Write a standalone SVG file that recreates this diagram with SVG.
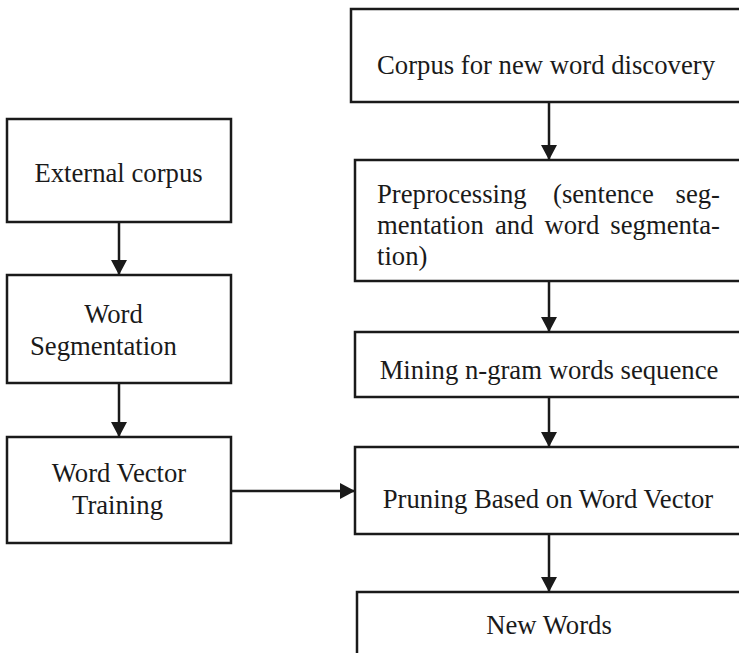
<svg xmlns="http://www.w3.org/2000/svg" width="739" height="653" viewBox="0 0 739 653">
  <style>
    .box { fill: #ffffff; stroke: #1a1a1a; stroke-width: 2.5; }
    .lbl { font-family: "Liberation Serif", "Times New Roman", serif; font-size: 26.7px; fill: #1a1a1a; }
    .mid { text-anchor: middle; }
    .end { text-anchor: end; }
    .conn { stroke: #1a1a1a; stroke-width: 2.5; fill: none; marker-end: url(#ah); }
  </style>
  <defs>
    <marker id="ah" viewBox="0 0 15 16" refX="15" refY="8" markerWidth="15" markerHeight="16" markerUnits="userSpaceOnUse" orient="auto">
      <path d="M0,0 L15,8 L0,16 z" fill="#1a1a1a"/>
    </marker>
  </defs>
  <rect width="739" height="653" fill="#ffffff"/>

  <g id="external-corpus">
    <rect class="box" x="7" y="119" width="224" height="103"/>
    <text class="lbl mid" x="118.5" y="182">External corpus</text>
  </g>
  <g id="word-segmentation">
    <rect class="box" x="7" y="275" width="224" height="108"/>
    <text class="lbl mid" x="113.5" y="323">Word</text>
    <text class="lbl" x="30" y="355">Segmentation</text>
  </g>
  <g id="word-vector-training">
    <rect class="box" x="7" y="437" width="224" height="106"/>
    <text class="lbl mid" x="119" y="482">Word Vector</text>
    <text class="lbl mid" x="117.5" y="514">Training</text>
  </g>

  <g id="corpus-new-word">
    <rect class="box" x="351" y="9" width="400" height="93"/>
    <text class="lbl mid" x="546" y="74">Corpus for new word discovery</text>
  </g>
  <g id="preprocessing">
    <rect class="box" x="355" y="160" width="396" height="121"/>
    <text class="lbl" x="377" y="203">Preprocessing</text>
    <text class="lbl" x="553" y="203">(sentence</text>
    <text class="lbl end" x="720" y="203">seg-</text>
    <text class="lbl" x="377" y="234">mentation</text>
    <text class="lbl" x="495" y="234">and</text>
    <text class="lbl" x="544.5" y="234">word</text>
    <text class="lbl end" x="720" y="234">segmenta-</text>
    <text class="lbl" x="377" y="265">tion)</text>
  </g>
  <g id="mining">
    <rect class="box" x="355" y="332" width="396" height="65"/>
    <text class="lbl mid" x="549" y="379">Mining n-gram words sequence</text>
  </g>
  <g id="pruning">
    <rect class="box" x="355" y="447" width="396" height="87"/>
    <text class="lbl mid" x="548" y="508">Pruning Based on Word Vector</text>
  </g>
  <g id="new-words">
    <rect class="box" x="357" y="592" width="396" height="80"/>
    <text class="lbl mid" x="549" y="634">New Words</text>
  </g>

  <g id="connectors">
    <line class="conn" x1="119" y1="222" x2="119" y2="275"/>
    <line class="conn" x1="119" y1="383" x2="119" y2="437"/>
    <line class="conn" x1="231" y1="491" x2="355" y2="491"/>
    <line class="conn" x1="549" y1="102" x2="549" y2="160"/>
    <line class="conn" x1="549" y1="281" x2="549" y2="332"/>
    <line class="conn" x1="549" y1="397" x2="549" y2="447"/>
    <line class="conn" x1="549" y1="534" x2="549" y2="592"/>
  </g>
</svg>
